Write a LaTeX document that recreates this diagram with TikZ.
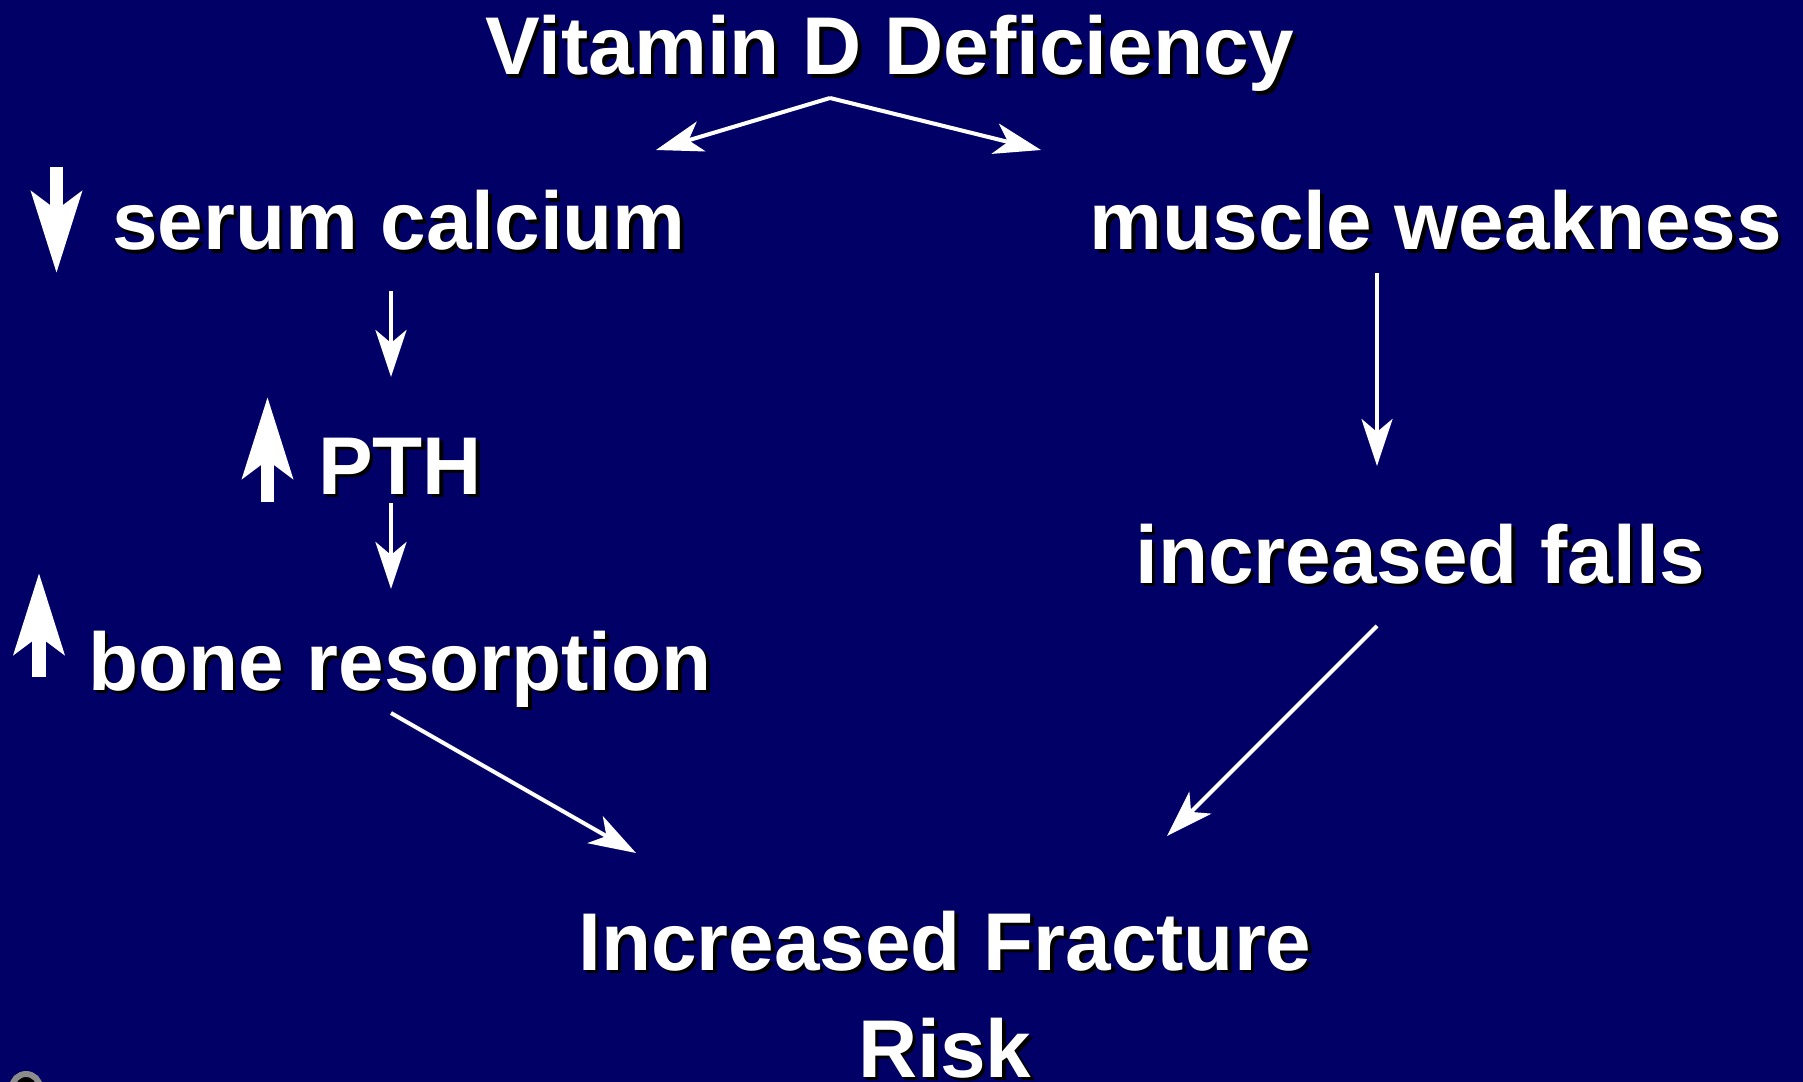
\documentclass[tikz,border=0pt]{standalone}
\usepackage{fontspec}
\setmainfont{Liberation Sans}
\usepackage{xcolor}
\usetikzlibrary{arrows.meta,positioning}
\definecolor{slidebg}{HTML}{000066}
\definecolor{logogray}{HTML}{8C8C8C}
\newcommand{\shtxt}[1]{\leavevmode\rlap{\kern0.035cm\raisebox{-0.035cm}{\color{black}#1}}#1}
\tikzset{
  slidetxt/.style={text=white,anchor=base,inner sep=0pt,align=center,
                   font=\fontsize{23.3pt}{30.4pt}\selectfont\bfseries},
  conn/.style={-{Stealth[length=0.47cm,width=0.31cm,inset=0.13cm]},line width=0.04cm,draw=white},
  bigarr/.style={-{Stealth[length=0.81cm,width=0.5cm,inset=0.18cm]},line width=0.13cm,draw=white}
}

\begin{document}
\begin{tikzpicture}[x=0.01cm,y=-0.01cm]
  \useasboundingbox (0,0) rectangle (1803,1082);
  \clip (0,0) rectangle (1803,1082);
  \fill[slidebg] (0,0) rectangle (1803,1082);
  % text of the slide
  \node[slidetxt] (title)  at (890,75)   {\shtxt{Vitamin D Deficiency}};
  \node[slidetxt] (serum)  at (399,250)  {\shtxt{serum calcium}};
  \node[slidetxt] (muscle) at (1436,250) {\shtxt{muscle weakness}};
  \node[slidetxt] (pth)    at (400,494)  {\shtxt{PTH}};
  \node[slidetxt] (falls)  at (1420,583) {\shtxt{increased falls}};
  \node[slidetxt] (bone)   at (400,690)  {\shtxt{bone resorption}};
  \node[slidetxt] (frac)   at (945,1077) {\shtxt{Increased Fracture}\\\shtxt{Risk}};
  % up and down signs
  \draw[bigarr] (56.5,167) -- (56.5,273);
  \draw[bigarr] (267.5,502) -- (267.5,397);
  \draw[bigarr] (39,677) -- (39,573);
  % connectors
  \draw[conn] ([shift={(-60,23)}]title.base) -- ([shift={(257,-100)}]serum.base);
  \draw[conn] ([shift={(-60,23)}]title.base) -- ([shift={(-395,-100)}]muscle.base);
  \draw[conn] ([shift={(-8,41)}]serum.base) -- ([shift={(-9,-117)}]pth.base);
  \draw[conn] ([shift={(-9,9)}]pth.base) -- ([shift={(-9,-101)}]bone.base);
  \draw[conn] ([shift={(-59,23)}]muscle.base) -- ([shift={(-43,-117)}]falls.base);
  \draw[conn] ([shift={(-9,23)}]bone.base) -- ([shift={(-309,-224)}]frac.base);
  \draw[conn] ([shift={(-43,43)}]falls.base) -- ([shift={(222,-241)}]frac.base);
  % corner of the logo
  \draw[logogray,fill=black,line width=0.06cm] (26,1088) circle (14);
\end{tikzpicture}
\end{document}
